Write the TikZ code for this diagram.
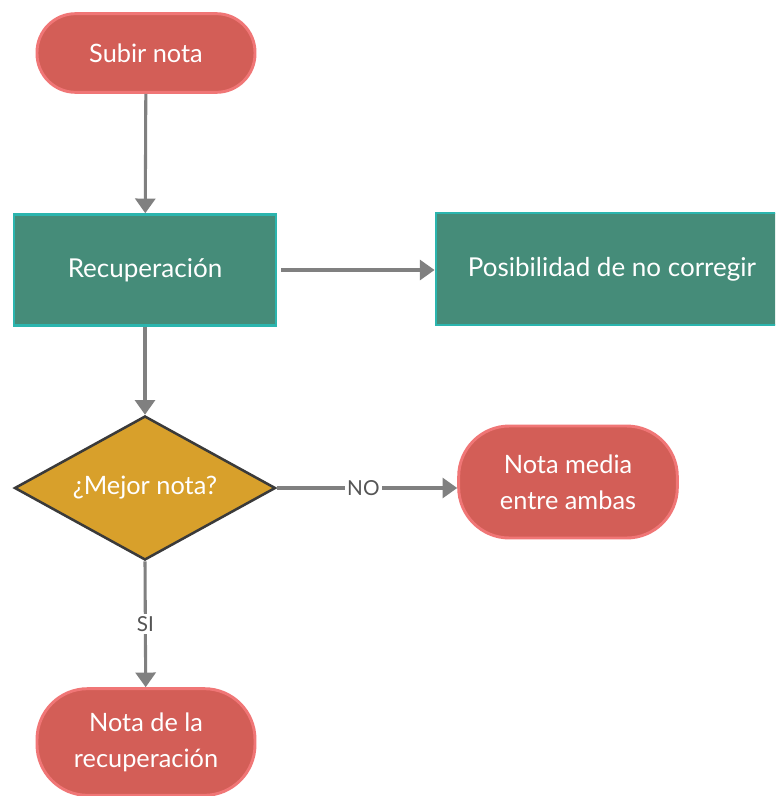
\documentclass[tikz,border=0pt]{standalone}
\usepackage{fontspec}
\setmainfont{Lato}
\usepackage{tikz}
\usetikzlibrary{shapes.geometric,arrows.meta,positioning,calc}

\definecolor{pillred}{HTML}{D35E57}
\definecolor{pillline}{HTML}{F07676}
\definecolor{boxgreen}{HTML}{458C79}
\definecolor{boxline}{HTML}{2BB5AE}
\definecolor{askgold}{HTML}{D8A02B}
\definecolor{askline}{HTML}{3A3A3A}
\definecolor{flowgray}{HTML}{808080}
\definecolor{labgray}{HTML}{555555}

\begin{document}
\begin{tikzpicture}[
            x=0.75pt, y=-0.75pt,
            pill/.style={draw=pillline, fill=pillred, line width=2.2pt, rounded corners=29pt,
                         text=white, align=center, font=\fontsize{19}{27}\selectfont},
            box/.style={draw=boxline, fill=boxgreen, line width=2.2pt, rectangle,
                        text=white, font=\fontsize{19.5}{22}\selectfont},
            ask/.style={draw=askline, fill=askgold, line width=1.9pt, diamond, aspect=1.8, inner sep=0pt,
                        text=white, font=\fontsize{19}{22}\selectfont},
            flow/.style={draw=flowgray, line width=2.3pt, -{Triangle[length=11pt,width=15pt]}},
            tag/.style={fill=white, text=labgray, inner sep=2pt, font=\fontsize{15.5}{18}\selectfont}
        ]
            \clip (0,0) rectangle (775,796);
            \fill[white] (0,0) rectangle (775,796);

            \node[pill, minimum width=163.5pt, minimum height=59pt] (upload) at (146,53) {Subir nota};
            \node[box, minimum width=196.5pt, minimum height=83pt] (retake) at (145,270) {Recuperación};
            \node[box, minimum width=264pt, minimum height=84pt] (nofix) at (612,269) {Posibilidad de no corregir};
            \node[ask, minimum width=195.75pt, minimum height=108pt] (better) at (145,488) {¿Mejor nota?};
            \node[pill, rounded corners=38pt, minimum width=164pt, minimum height=84pt] (mean) at (568,482) {Nota media\\entre ambas};
            \node[pill, rounded corners=38pt, minimum width=163.5pt, minimum height=80pt] (keep) at (146,742) {Nota de la\\recuperación};

            \draw[flow] (upload) -- (retake);
            \draw[flow, shorten <=3pt] (retake) -- (nofix.west |- retake);
            \draw[flow] (retake) -- (better);
            \draw[flow] (better.east) -- node[tag, pos=0.48] (no) {NO} (mean.west |- better.east);
            \draw[flow] (better.south) -- node[tag, pos=0.5] (si) {SI} (keep);
        \end{tikzpicture}
\end{document}
